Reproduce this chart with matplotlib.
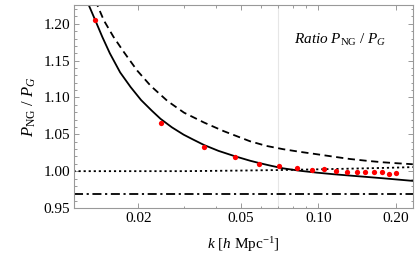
import matplotlib
matplotlib.use("Agg")
import matplotlib.pyplot as plt
from matplotlib.ticker import FixedLocator, FixedFormatter, MultipleLocator, FormatStrFormatter, NullFormatter

plt.rcParams['font.family'] = ['Liberation Serif', 'DejaVu Serif']
plt.rcParams['mathtext.fontset'] = 'custom'
plt.rcParams['mathtext.rm'] = 'Liberation Serif'
plt.rcParams['mathtext.it'] = 'Liberation Serif:italic'
plt.rcParams['mathtext.bf'] = 'Liberation Serif:bold'

# ---- data ----
solid_k = [0.0126, 0.01358, 0.0145, 0.0155, 0.0170, 0.01868, 0.0205, 0.0225, 0.0244, 0.0270,
           0.0300, 0.0324, 0.0360, 0.0410, 0.0474, 0.0543, 0.0590, 0.0650, 0.0731, 0.0850,
           0.0986, 0.1150, 0.1328, 0.1550, 0.1790, 0.2050, 0.2330]
solid_v = [1.232, 1.2055, 1.1820, 1.1600, 1.1340, 1.1140, 1.0965, 1.0825, 1.0710, 1.0595,
           1.0495, 1.0435, 1.0355, 1.0275, 1.0203, 1.0142, 1.0110, 1.0076, 1.0038, 1.0005,
           0.9980, 0.9958, 0.9940, 0.9921, 0.9903, 0.9885, 0.9868]

dashed_k = [0.0136, 0.0147, 0.0160, 0.0176, 0.0198, 0.02235, 0.0260, 0.0301, 0.0360, 0.0430,
            0.0543, 0.0630, 0.0731, 0.0850, 0.0986, 0.1150, 0.1328, 0.1550, 0.1789, 0.2050,
            0.2330]
dashed_v = [1.232, 1.2045, 1.1825, 1.1613, 1.1365, 1.1157, 1.0950, 1.0794, 1.0660, 1.0542,
            1.0406, 1.0342, 1.0298, 1.0262, 1.0230, 1.0196, 1.0165, 1.0140, 1.0120, 1.0106,
            1.0094]

dotted_k = [0.0112, 0.03, 0.05, 0.07, 0.10, 0.15, 0.20, 0.233]
dotted_v = [1.0000, 1.0000, 1.0008, 1.0015, 1.0025, 1.0038, 1.0048, 1.0055]

dashdot_k = [0.0112, 0.233]
dashdot_v = [0.969, 0.969]

points_k = [0.01358, 0.02444, 0.0360, 0.0474, 0.0590, 0.0706, 0.0824, 0.0943, 0.1055,
            0.1172, 0.1289, 0.1410, 0.1522, 0.1640, 0.1763, 0.1880, 0.2002]
points_v = [1.2055, 1.0657, 1.0329, 1.0193, 1.0097, 1.0064, 1.0041, 1.0019, 1.0030,
            0.9996, 0.9982, 0.9993, 0.9991, 0.9986, 0.9982, 0.9968, 0.9975]

xticks = [0.02, 0.05, 0.10, 0.20]
xtick_labels = ["0.02", "0.05", "0.10", "0.20"]
xminor = [0.03, 0.04, 0.06, 0.07, 0.08, 0.09]
yticks = [0.95, 1.00, 1.05, 1.10, 1.15, 1.20]
vline_k = 0.07

# ---- figure ----
fig = plt.figure(figsize=(4.19, 2.57), dpi=100)
ax = fig.add_axes([74/419, 1-208/257, (412.7-74)/419, (208-5)/257])

ax.axvline(vline_k, color='#e6e6e6', lw=0.8, zorder=0)
ax.plot(dashdot_k, dashdot_v, color='black', lw=1.3, dashes=(5, 2, 1.2, 2))
ax.plot(dotted_k, dotted_v, color='black', lw=1.3, dashes=(1.2, 1.6))
ax.plot(dashed_k, dashed_v, color='black', lw=1.3, dashes=(4, 2.5))
ax.plot(solid_k, solid_v, color='black', lw=1.3)
ax.plot(points_k, points_v, 'o', color='#ff0000', ms=3.8, mew=0, zorder=5)

ax.set_xscale('log')
ax.set_xlim(0.01125, 0.2328)
ax.set_ylim(0.95, 1.2255)

ax.xaxis.set_major_locator(FixedLocator(xticks))
ax.xaxis.set_major_formatter(FixedFormatter(xtick_labels))
ax.xaxis.set_minor_locator(FixedLocator(xminor))
ax.xaxis.set_minor_formatter(NullFormatter())
ax.yaxis.set_major_locator(FixedLocator(yticks))
ax.yaxis.set_major_formatter(FormatStrFormatter('%.2f'))
ax.yaxis.set_minor_locator(MultipleLocator(0.01))

frame_col = '#999999'
for s in ax.spines.values():
    s.set_color(frame_col)
    s.set_linewidth(0.8)
ax.tick_params(which='both', direction='in', top=True, right=True, color=frame_col,
               labelsize=11, labelcolor='black', width=0.7)
ax.tick_params(which='major', length=3.5, pad=3)
ax.tick_params(which='minor', length=1.8)

ax.set_xlabel(r'$k$ [$h$ Mpc$^{-1}$]', fontsize=11, labelpad=7)
ax.set_ylabel(r'$P_{\rm NG}\ /\ P_G$', fontsize=12, labelpad=4)

ax.text(0.787, 0.83, r'$Ratio\ P_{\rm NG}\ /\ P_G$', transform=ax.transAxes,
        ha='center', va='center', fontsize=11)

fig.savefig('out.png', dpi=100)
